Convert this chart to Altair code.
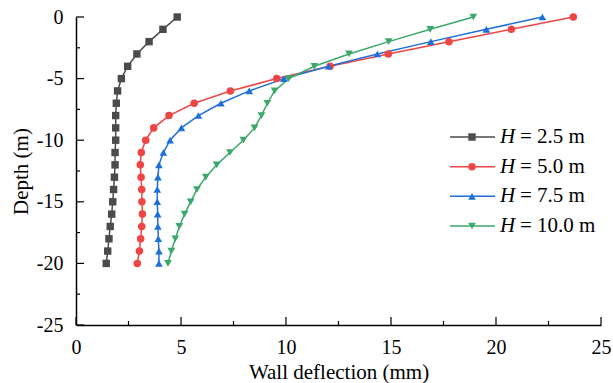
import altair as alt
import pandas as pd

# Depth below ground surface (m)
depth = [0, -1, -2, -3, -4, -5, -6, -7, -8, -9, -10,
         -11, -12, -13, -14, -15, -16, -17, -18, -19, -20]

# Lateral wall deflection (mm) for each excavation depth H
defl_h25 = [4.82, 4.14, 3.48, 2.90, 2.46, 2.16, 1.98, 1.92, 1.89, 1.89, 1.89,
            1.86, 1.86, 1.83, 1.79, 1.75, 1.70, 1.63, 1.57, 1.51, 1.44]
defl_h50 = [23.68, 20.73, 17.76, 14.87, 12.10, 9.56, 7.35, 5.63, 4.43, 3.70, 3.32,
            3.11, 3.06, 3.10, 3.13, 3.14, 3.16, 3.13, 3.08, 3.02, 2.92]
defl_h75 = [22.21, 19.54, 16.90, 14.35, 12.03, 9.90, 8.25, 6.90, 5.83, 5.02, 4.48,
            4.16, 3.95, 3.90, 3.87, 3.87, 3.89, 3.90, 3.92, 3.95, 3.95]
defl_h100 = [18.92, 16.87, 14.89, 13.00, 11.35, 10.13, 9.46, 9.11, 8.83, 8.50, 7.97,
             7.33, 6.70, 6.18, 5.76, 5.46, 5.17, 4.92, 4.73, 4.54, 4.38]

series_names = ["H = 2.5 m", "H = 5.0 m", "H = 7.5 m", "H = 10.0 m"]
legend_rest = ["= 2.5 m", "= 5.0 m", "= 7.5 m", "= 10.0 m"]
series_colors = ["#4b4b4b", "#ee4545", "#1f6fdb", "#3ba86b"]
series_shapes = ["square", "circle", "triangle-up", "triangle-down"]
series_sizes = [55, 60, 85, 85]

x_major = [0, 5, 10, 15, 20, 25]
x_minor = [2.5, 7.5, 12.5, 17.5, 22.5]
y_major = [0, -5, -10, -15, -20, -25]
y_minor = [-2.5, -7.5, -12.5, -17.5, -22.5]

FONT = "Liberation Serif"
FS_TICK = 20
FS = 21
W, H = 525, 308

rows = []
for name, vals in zip(series_names, [defl_h25, defl_h50, defl_h75, defl_h100]):
    for d, v in zip(depth, vals):
        rows.append({"series": name, "depth": d, "deflection": v})
df = pd.DataFrame(rows)

legend_df = pd.DataFrame({"series": series_names, "rest": legend_rest})

x_scale = alt.Scale(domain=[0, 25], nice=False, zero=False)
y_scale = alt.Scale(domain=[-25, 0], nice=False, zero=False)
color_scale = alt.Scale(domain=series_names, range=series_colors)
shape_scale = alt.Scale(domain=series_names, range=series_shapes)
size_scale = alt.Scale(domain=series_names, range=series_sizes)

# Plain hyphen for negative tick labels
num_label = "datum.value < 0 ? '-' + abs(datum.value) : '' + datum.value"

x_axis = alt.Axis(
    values=x_major, ticks=False, grid=False, labelFont=FONT, labelFontSize=FS_TICK,
    labelColor="black", labelPadding=12, domainColor="black", domainWidth=1.5,
    title="Wall deflection (mm)", titleFont=FONT, titleFontSize=FS,
    titleFontWeight="normal", titleColor="black", titleY=53,
    titleBaseline="alphabetic", labelFlush=False, labelExpr=num_label,
)
y_axis = alt.Axis(
    values=y_major, ticks=False, grid=False, labelFont=FONT, labelFontSize=FS_TICK,
    labelColor="black", labelPadding=13, domainColor="black", domainWidth=1.5,
    title="Depth (m)", titleFont=FONT, titleFontSize=FS, titleFontWeight="normal",
    titleColor="black", titleX=-49, titleY=H / 2, titleBaseline="alphabetic",
    titleAngle=-90, labelFlush=False, labelExpr=num_label,
)

base = alt.Chart(df)

lines = base.mark_line(strokeWidth=1.5).encode(
    x=alt.X("deflection:Q", scale=x_scale, axis=x_axis),
    y=alt.Y("depth:Q", scale=y_scale, axis=y_axis),
    color=alt.Color("series:N", scale=color_scale, legend=None),
    order=alt.Order("depth:Q", sort="descending"),
)

points = base.mark_point(filled=True, opacity=1).encode(
    x=alt.X("deflection:Q", scale=x_scale, axis=x_axis),
    y=alt.Y("depth:Q", scale=y_scale, axis=None),
    color=alt.Color("series:N", scale=color_scale, legend=None),
    shape=alt.Shape("series:N", scale=shape_scale, legend=None),
    size=alt.Size("series:N", scale=size_scale, legend=None),
)

# Inward-pointing tick marks on both axes
def x_ticks(vals, length):
    return alt.Chart(pd.DataFrame({"t": vals})).mark_rule(
        color="black", strokeWidth=1.2
    ).encode(
        x=alt.X("t:Q", scale=x_scale, axis=x_axis),
        y=alt.value(H), y2=alt.value(H - length),
    )

def y_ticks(vals, length):
    return alt.Chart(pd.DataFrame({"t": vals})).mark_rule(
        color="black", strokeWidth=1.2
    ).encode(
        y=alt.Y("t:Q", scale=y_scale, axis=None),
        x=alt.value(0), x2=alt.value(length),
    )

ticks = [x_ticks(x_major, 8), x_ticks(x_minor, 4), y_ticks(y_major, 8), y_ticks(y_minor, 4)]

# Legend: line segment with marker, italic H and the value text
leg_y = alt.Y("series:N", scale=alt.Scale(type="point", domain=series_names,
                                          range=[120, 209], padding=0), axis=None)
leg_base = alt.Chart(legend_df)
leg_line = leg_base.mark_rule(strokeWidth=1.5).encode(
    y=leg_y, x=alt.value(374), x2=alt.value(419),
    color=alt.Color("series:N", scale=color_scale, legend=None),
)
leg_mark = leg_base.mark_point(filled=True, opacity=1).encode(
    y=leg_y, x=alt.value(396),
    color=alt.Color("series:N", scale=color_scale, legend=None),
    shape=alt.Shape("series:N", scale=shape_scale, legend=None),
    size=alt.Size("series:N", scale=size_scale, legend=None),
)
leg_h = leg_base.mark_text(
    text="H", font=FONT, fontSize=FS, fontStyle="italic", align="left",
    baseline="middle", color="black",
).encode(y=leg_y, x=alt.value(424))
leg_txt = leg_base.mark_text(
    font=FONT, fontSize=FS, align="left", baseline="middle", color="black",
).encode(y=leg_y, x=alt.value(444), text="rest:N")

chart = alt.layer(
    lines, points, *ticks, leg_line, leg_mark, leg_h, leg_txt
).resolve_scale(
    y="independent"
).properties(
    width=W, height=H, autosize="none",
    padding={"left": 76, "top": 17, "right": 12, "bottom": 58},
).configure_view(stroke=None)

chart.save("out.html", embed_options={"renderer": "svg", "actions": False})
